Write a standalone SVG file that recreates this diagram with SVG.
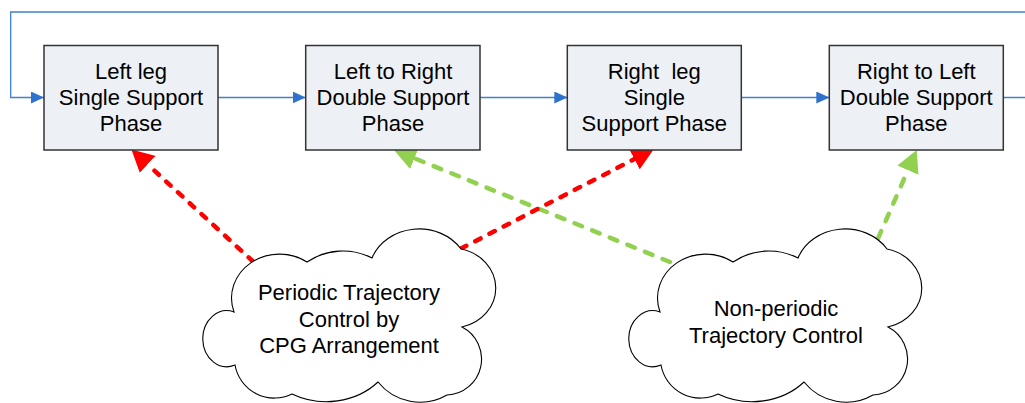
<svg xmlns="http://www.w3.org/2000/svg" width="1025" height="403" viewBox="0 0 1025 403">
  <style>
    .box { fill: #edf0f5; stroke: #333333; stroke-width: 1.5; }
    .cloud { fill: #ffffff; stroke: #000000; stroke-width: 1.1; }
    .label { font-family: "Liberation Sans", Arial, sans-serif; font-size: 22px; fill: #000000; text-anchor: middle; }
    .flow { fill: none; stroke: #3f80d0; stroke-width: 1.3; }
    .ctl-red { fill: none; stroke: #ff0000; stroke-width: 4.5; stroke-linecap: round; stroke-dasharray: 6 10; }
    .ctl-green { fill: none; stroke: #92d050; stroke-width: 4.5; stroke-linecap: round; stroke-dasharray: 8 11; }
  </style>
  <defs>
    <marker id="arrowBlue" markerUnits="userSpaceOnUse" markerWidth="13" markerHeight="12" refX="13" refY="6" orient="auto">
      <path d="M0,0 L13,6 L0,12 Z" fill="#2f72ce"/>
    </marker>
    <marker id="arrowRed" markerUnits="userSpaceOnUse" markerWidth="22" markerHeight="23" refX="0" refY="11.5" orient="auto">
      <path d="M0,0 L22,11.5 L0,23 Z" fill="#ff0000"/>
    </marker>
    <marker id="arrowGreen" markerUnits="userSpaceOnUse" markerWidth="22" markerHeight="23" refX="0" refY="11.5" orient="auto">
      <path d="M0,0 L22,11.5 L0,23 Z" fill="#92d050"/>
    </marker>
    <path id="cloudShape" d="M 234 312
      A 48 44 0 0 1 307 262
      A 64 64 0 0 1 372 258
      A 50 44 0 0 1 461 249
      A 44 40 0 0 1 462 327
      A 36 36 0 0 1 447 395
      A 54 54 0 0 1 378 382
      A 70 60 0 0 1 292 394
      A 40 40 0 0 1 235 365
      A 24 28 0 1 1 234 312 Z"/>
  </defs>

  <!-- connectors -->
  <g id="connectors">
    <path class="flow" d="M 218 97.5 H 305.7" marker-end="url(#arrowBlue)"/>
    <path class="flow" d="M 480 97.5 H 567.3" marker-end="url(#arrowBlue)"/>
    <path class="flow" d="M 741.3 97.5 H 829.3" marker-end="url(#arrowBlue)"/>
    <path class="flow" d="M 1003.3 97.5 H 1035 V 12 H 10.7 V 97.5 H 44" marker-end="url(#arrowBlue)"/>

    <path class="ctl-green" d="M 670 262 L 414.4 158.3" marker-end="url(#arrowGreen)"/>
    <path class="ctl-green" d="M 878 238.5 L 907.9 170.2" marker-end="url(#arrowGreen)"/>
    <path class="ctl-red" d="M 253 261.5 L 147.6 164.4" marker-end="url(#arrowRed)"/>
    <path class="ctl-red" d="M 461 248.5 L 634.4 159.1" marker-end="url(#arrowRed)"/>
  </g>

  <!-- phase boxes -->
  <g id="left-single-support">
    <rect class="box" x="44" y="45.5" width="174" height="104.5"/>
    <text class="label" x="131" y="79">Left leg</text>
    <text class="label" x="131" y="105">Single Support</text>
    <text class="label" x="131" y="131">Phase</text>
  </g>
  <g id="left-to-right-double-support">
    <rect class="box" x="305.7" y="45.5" width="174.3" height="104.5"/>
    <text class="label" x="393" y="79">Left to Right</text>
    <text class="label" x="393" y="105">Double Support</text>
    <text class="label" x="393" y="131">Phase</text>
  </g>
  <g id="right-single-support">
    <rect class="box" x="567.3" y="45.5" width="174" height="104.5"/>
    <text class="label" x="654.3" y="79" xml:space="preserve">Right  leg</text>
    <text class="label" x="654.3" y="105">Single</text>
    <text class="label" x="654.3" y="131">Support Phase</text>
  </g>
  <g id="right-to-left-double-support">
    <rect class="box" x="829.3" y="45.5" width="174" height="104.5"/>
    <text class="label" x="916.3" y="79">Right to Left</text>
    <text class="label" x="916.3" y="105">Double Support</text>
    <text class="label" x="916.3" y="131">Phase</text>
  </g>

  <!-- control clouds -->
  <g id="periodic-control">
    <use href="#cloudShape" class="cloud"/>
    <text class="label" x="349" y="300">Periodic Trajectory</text>
    <text class="label" x="349" y="326.5">Control by</text>
    <text class="label" x="349" y="353">CPG Arrangement</text>
  </g>
  <g id="non-periodic-control">
    <use href="#cloudShape" class="cloud" transform="translate(426,0)"/>
    <text class="label" x="776" y="316">Non-periodic</text>
    <text class="label" x="776" y="343">Trajectory Control</text>
  </g>
</svg>
